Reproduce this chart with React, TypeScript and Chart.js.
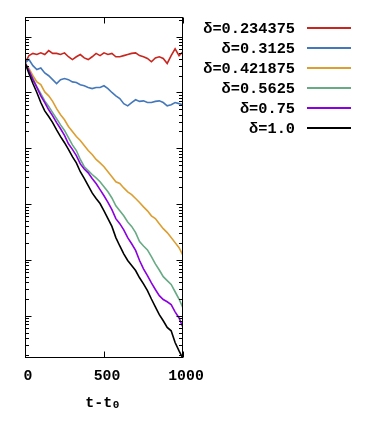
import React, { useEffect, useRef } from "react";
import { Chart, registerables } from "chart.js";

Chart.register(...registerables);

// time since t0
const tValues = [
  0, 25, 50, 75, 100, 125, 150, 175, 200, 225, 250, 275, 300, 325, 350, 375, 400, 425, 450, 475,
  500, 525, 550, 575, 600, 625, 650, 675, 700, 725, 750, 775, 800, 825, 850, 875, 900, 925, 950, 975, 1000,
];

// log10 of the plotted quantity, one array per delta
const log10Delta0234375 = [
  -0.47, -0.34, -0.30, -0.32, -0.29, -0.32, -0.25, -0.30, -0.30, -0.32, -0.29, -0.36, -0.41, -0.36, -0.32, -0.38,
  -0.41, -0.36, -0.30, -0.34, -0.29, -0.32, -0.30, -0.36, -0.36, -0.34, -0.32, -0.30, -0.29, -0.34, -0.36, -0.39,
  -0.45, -0.38, -0.36, -0.39, -0.48, -0.34, -0.22, -0.34, -0.27,
];
const log10Delta03125 = [
  -0.47, -0.41, -0.52, -0.59, -0.56, -0.65, -0.70, -0.77, -0.84, -0.77, -0.75, -0.77, -0.81, -0.82, -0.86, -0.88,
  -0.91, -0.93, -0.91, -0.91, -0.88, -0.93, -1.00, -1.06, -1.11, -1.20, -1.24, -1.18, -1.13, -1.16, -1.15, -1.18,
  -1.18, -1.16, -1.15, -1.18, -1.24, -1.22, -1.18, -1.20, -1.22,
];
const log10Delta0421875 = [
  -0.47, -0.57, -0.70, -0.81, -0.86, -0.99, -1.06, -1.16, -1.29, -1.40, -1.49, -1.61, -1.70, -1.79, -1.86, -1.95,
  -2.04, -2.11, -2.20, -2.26, -2.33, -2.42, -2.51, -2.60, -2.63, -2.71, -2.78, -2.83, -2.90, -2.97, -3.05, -3.12,
  -3.21, -3.26, -3.35, -3.44, -3.51, -3.60, -3.69, -3.78, -3.92,
];
const log10Delta05625 = [
  -0.47, -0.61, -0.75, -0.90, -1.02, -1.15, -1.25, -1.36, -1.47, -1.58, -1.68, -1.81, -1.94, -2.04, -2.20, -2.33,
  -2.40, -2.47, -2.53, -2.60, -2.69, -2.78, -2.89, -3.03, -3.12, -3.21, -3.32, -3.40, -3.51, -3.67, -3.75, -3.82,
  -3.94, -4.07, -4.18, -4.30, -4.37, -4.44, -4.57, -4.70, -4.86,
];
const log10Delta075 = [
  -0.47, -0.61, -0.77, -0.91, -1.06, -1.18, -1.31, -1.42, -1.54, -1.65, -1.77, -1.92, -2.02, -2.13, -2.28, -2.37,
  -2.44, -2.54, -2.63, -2.74, -2.85, -2.97, -3.10, -3.26, -3.35, -3.46, -3.60, -3.71, -3.83, -4.01, -4.16, -4.28,
  -4.41, -4.53, -4.64, -4.71, -4.75, -4.80, -4.93, -5.04, -5.21,
];
const log10Delta10 = [
  -0.47, -0.66, -0.84, -1.00, -1.18, -1.33, -1.43, -1.54, -1.67, -1.79, -1.90, -2.02, -2.15, -2.26, -2.42, -2.54,
  -2.67, -2.80, -2.90, -2.99, -3.12, -3.26, -3.40, -3.60, -3.75, -3.89, -4.01, -4.10, -4.19, -4.32, -4.43, -4.55,
  -4.70, -4.84, -4.98, -5.09, -5.21, -5.27, -5.48, -5.63, -5.77,
];

const seriesLabels = ["δ=0.234375", "δ=0.3125", "δ=0.421875", "δ=0.5625", "δ=0.75", "δ=1.0"];
const seriesLog10 = [log10Delta0234375, log10Delta03125, log10Delta0421875, log10Delta05625, log10Delta075, log10Delta10];
const seriesColors = ["#c8261e", "#4478bb", "#dc9e30", "#68aa84", "#8a00e0", "#000000"];

const xTickValues = [0, 500, 1000];
const xTitleMain = "t-t";
const xTitleSub = "0";
const yMin = 1.75e-6;
const yMax = 2.25;

const FONT_FAMILY = '"Liberation Mono", "DejaVu Sans Mono", monospace';

const frameTicksPlugin = {
  id: "frameTicks",
  afterDatasetsDraw(chart: any) {
    const { ctx, chartArea: a, scales } = chart;
    const xs = scales.x;
    const ys = scales.y;
    const L = Math.round(a.left) + 0.5;
    const R = Math.round(a.right) - 0.5;
    const T = Math.round(a.top) + 0.5;
    const B = Math.round(a.bottom) - 0.5;
    ctx.save();
    ctx.strokeStyle = "#000";
    ctx.lineWidth = 1;
    ctx.beginPath();
    for (let e = -7; e <= 1; e++) {
      for (let k = 1; k <= 9; k++) {
        const v = k * Math.pow(10, e);
        if (v < yMin || v > yMax) continue;
        const py = Math.round(ys.getPixelForValue(v)) + 0.5;
        const len = k === 1 ? 6 : 3.5;
        ctx.moveTo(L, py);
        ctx.lineTo(L + len, py);
        ctx.moveTo(R, py);
        ctx.lineTo(R - len, py);
      }
    }
    xTickValues.forEach((v) => {
      const px = Math.round(xs.getPixelForValue(v)) + 0.5;
      ctx.moveTo(px, B);
      ctx.lineTo(px, B - 6);
      ctx.moveTo(px, T);
      ctx.lineTo(px, T + 6);
    });
    ctx.stroke();
    ctx.strokeRect(L, T, R - L, B - T);
    ctx.restore();
  },
};

const xTitlePlugin = {
  id: "xTitleSub",
  afterDraw(chart: any) {
    const { ctx, chartArea: a } = chart;
    ctx.save();
    ctx.fillStyle = "#000";
    ctx.textAlign = "left";
    ctx.textBaseline = "alphabetic";
    ctx.font = `bold 15px ${FONT_FAMILY}`;
    const w1 = ctx.measureText(xTitleMain).width;
    ctx.font = `bold 11px ${FONT_FAMILY}`;
    const w2 = ctx.measureText(xTitleSub).width;
    const x0 = (a.left + a.right) / 2 - 2 - (w1 + w2) / 2;
    const base = a.bottom + 48.5;
    ctx.font = `bold 15px ${FONT_FAMILY}`;
    ctx.fillText(xTitleMain, x0, base);
    ctx.font = `bold 11px ${FONT_FAMILY}`;
    ctx.fillText(xTitleSub, x0 + w1 + 0.5, base + 1.5);
    ctx.restore();
  },
};

const legendPlugin = {
  id: "rightLegend",
  afterDraw(chart: any) {
    const { ctx, chartArea: a } = chart;
    ctx.save();
    ctx.font = `bold 15.3px ${FONT_FAMILY}`;
    ctx.textAlign = "right";
    ctx.textBaseline = "middle";
    ctx.fillStyle = "#000";
    chart.data.datasets.forEach((ds: any, i: number) => {
      const y = a.top + 11 + i * 20;
      ctx.fillText(ds.label, a.right + 112, y + 1);
      ctx.strokeStyle = ds.borderColor;
      ctx.lineWidth = 2;
      ctx.beginPath();
      ctx.moveTo(a.right + 124, y);
      ctx.lineTo(a.right + 168, y);
      ctx.stroke();
    });
    ctx.restore();
  },
};

export default function App() {
  const canvasRef = useRef<HTMLCanvasElement | null>(null);

  useEffect(() => {
    if (!canvasRef.current) return;
    const datasets = seriesLabels.map((label, i) => ({
      label,
      data: tValues.map((t, j) => ({ x: t, y: Math.pow(10, seriesLog10[i][j]) })),
      borderColor: seriesColors[i],
      backgroundColor: seriesColors[i],
      borderWidth: 1.6,
      pointRadius: 0,
      tension: 0,
      fill: false,
      order: seriesLabels.length - i,
    }));

    const chart = new Chart(canvasRef.current, {
      type: "line",
      data: { datasets },
      plugins: [frameTicksPlugin, legendPlugin, xTitlePlugin],
      options: {
        animation: false,
        responsive: false,
        maintainAspectRatio: false,
        layout: { padding: { left: 17, top: 9, right: 179, bottom: 0 } },
        plugins: { legend: { display: false }, tooltip: { enabled: false } },
        scales: {
          x: {
            type: "linear",
            min: 0,
            max: 1000,
            afterBuildTicks: (scale: any) => {
              scale.ticks = xTickValues.map((v) => ({ value: v }));
            },
            afterFit: (scale: any) => {
              scale.height = 60;
            },
            grid: { display: false, drawTicks: false },
            border: { display: false },
            ticks: {
              color: "#000",
              padding: 9,
              labelOffset: 3,
              maxRotation: 0,
              callback: (v: any) => String(v),
              font: { family: FONT_FAMILY, size: 14.8, weight: "bold" },
            },
            title: { display: false },
          },
          y: {
            type: "logarithmic",
            min: yMin,
            max: yMax,
            display: false,
          },
        },
      },
    } as any);

    return () => chart.destroy();
  }, []);

  return (
    <div style={{ width: 354, height: 410 }}>
      <canvas ref={canvasRef} width={354} height={410} />
    </div>
  );
}
